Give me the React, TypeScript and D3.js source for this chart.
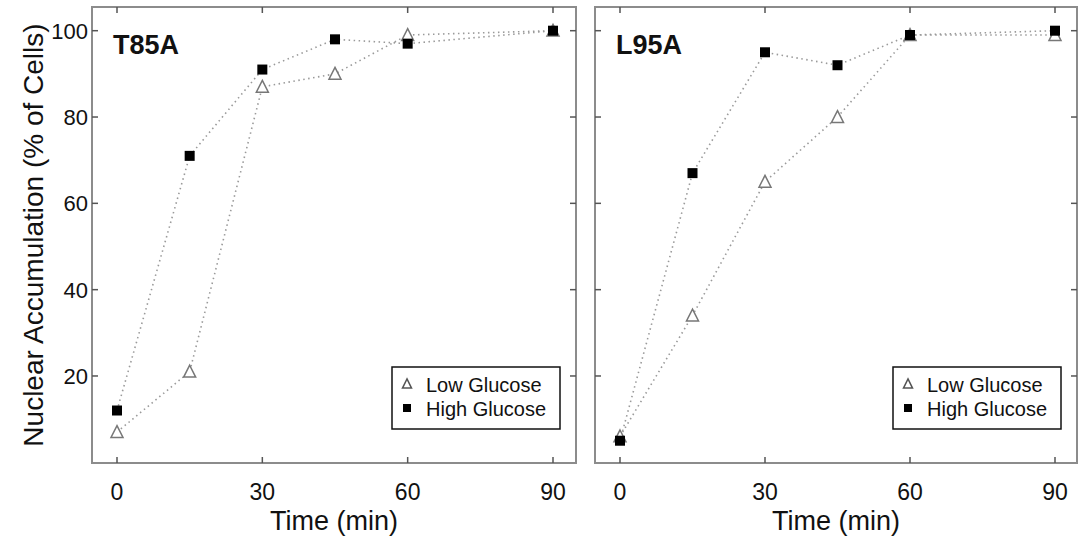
import React from "react";
import * as d3 from "d3";

const times = [0, 15, 30, 45, 60, 90];
const t85aLow = [7, 21, 87, 90, 99, 100];
const t85aHigh = [12, 71, 91, 98, 97, 100];
const l95aLow = [6, 34, 65, 80, 99, 99];
const l95aHigh = [5, 67, 95, 92, 99, 100];
const xTicks = [0, 30, 60, 90];
const yTicks = [20, 40, 60, 80, 100];
const panelTitles = ["T85A", "L95A"];
const legendLabels = ["Low Glucose", "High Glucose"];
const xTitle = "Time (min)";
const yTitle = "Nuclear Accumulation (% of Cells)";

const FONT = "'Liberation Sans', Arial, Helvetica, sans-serif";

const panels = [
  { title: panelTitles[0], low: t85aLow, high: t85aHigh, frame: [92, 576], x: [117, 553], labels: true },
  { title: panelTitles[1], low: l95aLow, high: l95aHigh, frame: [595, 1077], x: [620, 1055], labels: false },
];

const TOP = 7;
const BOTTOM = 463;
const yScale = d3.scaleLinear().domain([0, 100]).range([462.3, 30.7]);

function tri(cx: number, cy: number, s: number) {
  const h = s * 0.9;
  return `M${cx},${cy - h / 2 - 1}L${cx + s / 2},${cy + h / 2}L${cx - s / 2},${cy + h / 2}Z`;
}

function Panel({ p }: { p: typeof panels[0] }) {
  const xScale = d3.scaleLinear().domain([0, 90]).range(p.x);
  const line = d3
    .line<number>()
    .x((_, i) => xScale(times[i]))
    .y((d) => yScale(d));
  const [fl, fr] = p.frame;
  const tick = 6;
  const lgX = fr - 184;
  const lgY = 367;
  return (
    <g>
      <path d={line(p.low) || ""} fill="none" stroke="#9a9a9a" strokeWidth={1.6} strokeDasharray="1.5 3.5" />
      <path d={line(p.high) || ""} fill="none" stroke="#9a9a9a" strokeWidth={1.6} strokeDasharray="1.5 3.5" />
      {p.low.map((v, i) => (
        <path key={"l" + i} d={tri(xScale(times[i]), yScale(v), 12)} fill="white" stroke="#777" strokeWidth={1.5} />
      ))}
      {p.high.map((v, i) => (
        <rect key={"h" + i} x={xScale(times[i]) - 5} y={yScale(v) - 5} width={10} height={10} fill="#000" />
      ))}
      <rect x={fl} y={TOP} width={fr - fl} height={BOTTOM - TOP} fill="none" stroke="#8c8c8c" strokeWidth={2} />
      {xTicks.map((t) => (
        <g key={"xt" + t}>
          <line x1={xScale(t)} x2={xScale(t)} y1={BOTTOM} y2={BOTTOM - tick} stroke="#555" strokeWidth={1.5} />
          <line x1={xScale(t)} x2={xScale(t)} y1={TOP} y2={TOP + tick} stroke="#555" strokeWidth={1.5} />
          <text x={xScale(t)} y={500} textAnchor="middle" fontFamily={FONT} fontSize={23} fill="#111">
            {t}
          </text>
        </g>
      ))}
      {yTicks.map((t) => (
        <g key={"yt" + t}>
          <line x1={fl} x2={fl + tick} y1={yScale(t)} y2={yScale(t)} stroke="#555" strokeWidth={1.5} />
          <line x1={fr} x2={fr - tick} y1={yScale(t)} y2={yScale(t)} stroke="#555" strokeWidth={1.5} />
          {p.labels && (
            <text x={88} y={yScale(t) + 8} textAnchor="end" fontFamily={FONT} fontSize={22} fill="#111">
              {t}
            </text>
          )}
        </g>
      ))}
      <text x={fl + 21} y={54} fontFamily={FONT} fontWeight="bold" fontSize={27} fill="#111">
        {p.title}
      </text>
      <text x={(fl + fr) / 2} y={530} textAnchor="middle" fontFamily={FONT} fontSize={27} fill="#111">
        {xTitle}
      </text>
      <rect x={lgX} y={lgY} width={168} height={62} fill="white" stroke="#111" strokeWidth={1.5} />
      <path d={tri(lgX + 15, lgY + 17, 9)} fill="white" stroke="#555" strokeWidth={1.5} />
      <text x={lgX + 34} y={lgY + 25} fontFamily={FONT} fontSize={20} fill="#111">
        {legendLabels[0]}
      </text>
      <rect x={lgX + 11} y={lgY + 37} width={8} height={8} fill="#000" />
      <text x={lgX + 34} y={lgY + 49} fontFamily={FONT} fontSize={20} fill="#111">
        {legendLabels[1]}
      </text>
    </g>
  );
}

export default function App() {
  return (
    <svg
      width={1082}
      height={546}
      style={{ position: "absolute", left: 0, top: 0, background: "white" }}
    >
      <rect x={0} y={0} width={1082} height={546} fill="white" />
      {panels.map((p) => (
        <Panel key={p.title} p={p} />
      ))}
      <text
        transform={`translate(43,235) rotate(-90)`}
        textAnchor="middle"
        fontFamily={FONT}
        fontSize={28}
        fill="#111"
      >
        {yTitle}
      </text>
    </svg>
  );
}
